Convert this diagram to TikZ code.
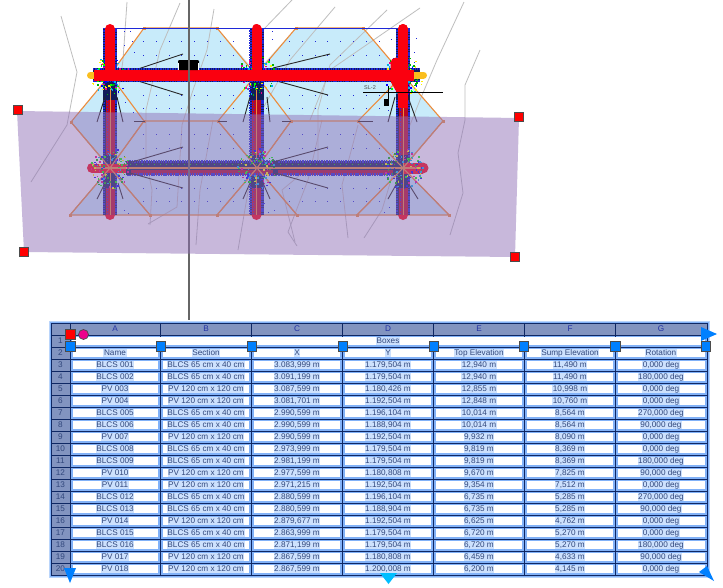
\documentclass[tikz,border=0pt]{standalone}
\usepackage{fontspec}
\setmainfont{Liberation Sans}
\definecolor{skyfill}{RGB}{200,235,250}
\definecolor{purplewash}{RGB}{143,112,183}
\definecolor{orangeln}{RGB}{236,140,60}
\definecolor{contour}{RGB}{190,190,190}
\definecolor{navy}{RGB}{18,28,90}
\definecolor{pipeblue}{RGB}{30,40,215}
\definecolor{pipered}{RGB}{250,0,15}
\definecolor{capyellow}{RGB}{250,190,30}
\definecolor{hdrfill}{RGB}{130,148,192}
\definecolor{gridln}{RGB}{15,40,100}
\definecolor{glowc}{RGB}{205,225,253}
\definecolor{halo}{RGB}{130,178,248}
\definecolor{txtc}{RGB}{50,72,125}
\definecolor{handleblue}{RGB}{0,128,255}
\definecolor{handlecyan}{RGB}{0,190,255}
\newcommand{\tablerow}[8]{%
 \pgfmathsetmacro{\ry}{335+12*#1-6}
 \node[celltxt,datacell] (a#1) at (115,\ry) {#2};
 \node[celltxt,datacell] (b#1) at (206,\ry) {#3};
 \node[celltxt,datacell] (c#1) at (297,\ry) {#4};
 \node[celltxt,datacell] (d#1) at (388,\ry) {#5};
 \node[celltxt,datacell] (e#1) at (479,\ry) {#6};
 \node[celltxt,datacell] (f#1) at (570,\ry) {#7};
 \node[celltxt,datacell] (g#1) at (661,\ry) {#8};
}
\tikzset{
 orangeline/.style={draw=orangeln,line width=1.1pt,line join=round},
 vtx/.style={fill=orangeln,minimum size=3pt,inner sep=0pt},
 contourline/.style={draw=contour,line width=.8pt,line join=round},
 leader/.style={draw=black!85,line width=.9pt},
 redhandle/.style={draw=black!70,fill=red,minimum size=9pt,inner sep=0pt,line width=.7pt},
 bluehandle/.style={draw=black!70,fill=handleblue,minimum size=9.5pt,inner sep=0pt,line width=.7pt},
 celltxt/.style={font=\fontsize{8.2}{9}\selectfont,inner sep=0pt,anchor=center,text height=5.9pt,text depth=1.3pt},
 datacell/.style={fill=glowc,text=txtc,inner xsep=.6pt},
}
\begin{document}
\begin{tikzpicture}[x=1pt,y=-1pt]
\useasboundingbox (0,0) rectangle (723,587);
\fill[white] (0,0) rectangle (723,587);
% survey area
\fill[skyfill] (144,28)--(217,28)--(256,72)--(296,28)--(363,28)--(403,75)--(443,121)--(403,168)--(449,215)--(70,215)--(110,168)--(71,122)--(110,75)--cycle;
% contour lines
\foreach \p in {
 {(61,16)--(77,72)--(67,125)--(31,182)},
 {(127,2)--(123,60)--(118,95)},
 {(180,3)--(160,50)--(146,110)--(146,160)--(152,190)--(150,225)},
 {(214,9)--(207,50)--(193,90)--(182,125)--(177,207)--(148,224)},
 {(292,0)--(263,30)},
 {(335,7)--(290,60)--(262,110)--(250,180)--(238,250)},
 {(387,10)--(330,65)--(318,110)--(318,160)--(282,190)--(295,242)},
 {(420,8)--(330,70)--(310,120)},
 {(464,2)--(437,60)--(420,100)--(400,150)--(382,210)--(364,238)},
 {(480,50)--(465,85)--(465,120)--(458,153)--(463,193)--(450,235)},
 {(322,120)--(308,180)--(288,232)--(297,246)},
 {(358,125)--(342,185)--(348,238)},
 {(213,120)--(200,190)--(196,245)}}
 {\draw[contourline] \p;}
% blue dots
\foreach \xa in {0,1}{
 \pgfmathsetmacro{\ox}{\xa*146}
 \foreach \yy in {41,55,95,108,134,148,188,201}{
  \foreach \k in {0,...,7}{
   \fill[pipeblue] ({143+\ox+\k*12.8},\yy) rectangle +(1,1);
  }}}
\foreach \px/\py in {124/31,130/31,132/41,124/45,134/52,272/31,272/39,396/31,391/39,266/108,268/212,124/210,128/213,125/102,133/112,264/203,384/212,389/207,388/110,274/210,416/38,414/52,414/62}{
 \fill[pipeblue] (\px,\py) rectangle +(1,1);}
% orange frame
\draw[orangeline] (71,122)--(110,75)--(144,28)--(217,28)--(256,75)--(296,28)--(363,28)--(403,75)--(443,121);
\draw[orangeline] (110,75)--(144,121)--(218,121)--(256,75)--(291,121)--(358,121)--(403,75);
\draw[orangeline] (71,122)--(110,168)--(70,215)--(449,215)--(403,168)--(443,121);
\draw[orangeline] (110,168)--(150,215) (144,121)--(110,168) (218,121)--(257,168)--(217,215) (257,168)--(291,121) (257,168)--(297,215) (358,121)--(403,168)--(357,215);
\foreach \vx/\vy [count=\vi] in {71/122,144/121,218/121,291/121,358/121,443/121,70/215,150/215,217/215,297/215,357/215,449/215,144/28,217/28,296/28,363/28}{
 \node[vtx] (vtx\vi) at (\vx,\vy) {};}
% blue frame
\draw[pipeblue,line width=.9pt] (103,28)--(410,28);
% pipes : vertical
\foreach \vx in {110,256.5,403}{
 \fill[pipered] (\vx,215) circle (5);
 \draw[navy,line width=14pt] (\vx,28)--(\vx,215);
 \draw[pipeblue,line width=2.4pt,dash pattern=on 1.4pt off 1pt] (\vx-6,28)--(\vx-6,215);
 \draw[pipeblue,line width=2.4pt,dash pattern=on 1.6pt off .8pt] (\vx+6,28)--(\vx+6,215);
 \draw[pipered,line width=10pt,line cap=round] (\vx,29)--(\vx,75);
 \draw[pipered!72!navy,line width=9pt] (\vx,100)--(\vx,155);
 \draw[pipered!72!navy,line width=9pt] (\vx,188)--(\vx,215);
 \draw[pipeblue,line width=1pt,dash pattern=on 1pt off 1.5pt] (\vx-3,100)--(\vx-3,214);
 \fill[navy] (\vx-7,89) rectangle (\vx+7,99);
 \draw[orangeln,line width=1pt] (\vx,86)--(\vx,215);
 \fill[navy] (\vx-6,180) rectangle (\vx-2,187);
 \fill[navy] (\vx+2,180) rectangle (\vx+6,187);
}
% lower branch
\fill[pipered] (92,168) circle (5);
\fill[pipered] (423,168) circle (5.5);
\draw[pipered,line width=9pt] (92,168)--(127,168);
\draw[pipered,line width=11pt] (404,168)--(423,168);
\draw[navy,line width=14pt] (127,168)--(394,168);
\draw[pipered!65!navy,line width=5pt] (130,172)--(394,172);
\draw[pipeblue,line width=2.2pt,dash pattern=on 1.4pt off 1pt] (127,161.5)--(394,161.5);
\draw[pipeblue,line width=2.2pt,dash pattern=on 1.6pt off .8pt] (127,174.5)--(394,174.5);
\foreach \bx in {128,275,395}{\fill[navy] (\bx-2.5,161) rectangle (\bx+2.5,175);}
\draw[orangeln,line width=1.2pt] (95,168)--(424,168);
\draw[green!80!black,line width=.7pt,dash pattern=on 1pt off 5pt] (100,164.5)--(410,164.5);
\draw[orangeline] (110,168)--(144,121) (110,168)--(150,215) (110,168)--(71,122) (110,168)--(70,215) (257,168)--(218,121) (257,168)--(217,215) (257,168)--(291,121) (257,168)--(297,215) (403,168)--(358,121) (403,168)--(357,215) (403,168)--(443,121) (403,168)--(449,215);
% leaders
\foreach \xa/\ya/\xb/\yb in {183/54/135/70,183/95/135/80,330/54/273/68,328/95/273/80,183/147/132/162,183/188/130/173,328/147/273/162,328/188/275/173,
 105/97/97/122,117/97/123/122,250/97/243/122,267/97/270/122,395/97/388/122,408/97/417/122,
 105/183/97/199,118/183/123/199,250/183/243/199,263/183/270/199,397/183/388/199,408/183/418/199,
 134/121/145/121,218/121/227/121,282/121/291/121,358/121/373/121}{
 \draw[leader] (\xa,\ya)--(\xb,\yb);}
% upper main rim
\draw[navy,line width=14pt] (93,75)--(420,75);
\draw[pipeblue,line width=1.8pt,dash pattern=on 1.4pt off 1pt] (93,68.8)--(420,68.8);
\draw[pipeblue,line width=1.8pt,dash pattern=on 1.6pt off .8pt] (93,81.2)--(420,81.2);
% junction specks
\pgfmathsetseed{41}
\foreach \cx/\cy in {110/75,256.5/75,403/75,110/168,256.5/168,403/168}{
 \foreach \i in {1,...,110}{
  \pgfmathsetmacro{\ang}{rnd*360}
  \pgfmathsetmacro{\rad}{7+rnd*13}
  \pgfmathtruncatemacro{\ci}{int(rnd*6)}
  \ifcase\ci\def\cc{green}\or\def\cc{cyan}\or\def\cc{yellow}\or\def\cc{magenta}\or\def\cc{blue}\else\def\cc{green!70!black}\fi
  \fill[\cc] ({\cx+\rad*cos(\ang)},{\cy+\rad*sin(\ang)}) rectangle +(1.6,1.6);
 }}
% upper main
\draw[capyellow,line width=7pt,line cap=round] (90.5,75)--(98,75) (412,75)--(423.5,75);
\draw[pipered,line width=11pt] (94,75)--(414,75);
\foreach \vx in {110,256.5}{\draw[pipered,line width=10pt] (\vx,40)--(\vx,75);}
% extra riser
\draw[pipered,line width=11pt,line cap=round,line join=round] (396,63)--(396,80)--(403,92);
\draw[pipered,line width=10pt,line cap=round] (403,29)--(403,75);
\draw[pipered,line width=10pt] (403,80)--(403,108);
% box and label
\fill[black,rounded corners=1pt] (178,60) rectangle (199,70);
\draw[white,line width=.7pt] (178.5,70)--(178.5,63) (198.5,70)--(198.5,63);
\node[font=\fontsize{5.5}{6}\selectfont,text=black!70,inner sep=0pt] (sl) at (370,88) {SL-2};
\draw[black,line width=.8pt] (363,92)--(443,92);
\draw[black,line width=1pt] (388,86)--(388,100);
\fill[black] (384,99) rectangle (389,106);
\draw[black!60,line width=1.1pt] (189,0)--(189,320);
% purple sheet
\fill[purplewash,opacity=.49] (17,111)--(519,118)--(515,257)--(24,252)--cycle;
\node[redhandle] (h1) at (17.5,109.5) {};
\node[redhandle] (h2) at (519,117) {};
\node[redhandle] (h3) at (24,251.5) {};
\node[redhandle] (h4) at (514.5,256.5) {};
% table
\fill[halo!55!white] (48.5,320.5) rectangle (710,578);
\fill[halo] (49.5,321.5) rectangle (709,576.5);
\fill[hdrfill] (51,323) rectangle (707,335);
\fill[hdrfill] (51,335) rectangle (70,575);
\foreach \r in {2,...,20}{
 \foreach \cl/\cr in {70/160.5,160.5/251.5,251.5/342.5,342.5/433,433/524.5,524.5/615.5,615.5/707}{
  \fill[white] (\cl+2.5,{335+12*(\r-1)+2.2}) rectangle (\cr-2.5,{335+12*\r-2.2});
 }}
\foreach \r in {0,...,20}{\draw[gridln,line width=.9pt] (51,335+12*\r)--(707,335+12*\r);}
\draw[gridln,line width=.9pt] (51,323)--(707,323);
\foreach \gx in {51,70,160.5,251.5,342.5,433,524.5,615.5,707}{\draw[gridln,line width=.9pt] (\gx,323)--(\gx,575);}
\fill[white] (72,337) rectangle (705,345.2);
\foreach \gx/\gl in {115/A,206/B,297/C,388/D,479/E,570/F,661/G}{
 \node[celltxt,text=txtc!70!blue] (col\gl) at (\gx,329.5) {\gl};}
\foreach \r in {1,...,20}{
 \node[celltxt,text=txtc] (row\r) at (60.5,{335+12*\r-6}) {\r};}
\node[celltxt,datacell] (boxes) at (388,341) {Boxes};
\tablerow{2}{Name}{Section}{X}{Y}{Top Elevation}{Sump Elevation}{Rotation}
\tablerow{3}{BLCS 001}{BLCS 65 cm x 40 cm}{3.083,999 m}{1.179,504 m}{12,940 m}{11,490 m}{0,000 deg}
\tablerow{4}{BLCS 002}{BLCS 65 cm x 40 cm}{3.091,199 m}{1.179,504 m}{12,940 m}{11,490 m}{180,000 deg}
\tablerow{5}{PV 003}{PV 120 cm x 120 cm}{3.087,599 m}{1.180,426 m}{12,855 m}{10,998 m}{0,000 deg}
\tablerow{6}{PV 004}{PV 120 cm x 120 cm}{3.081,701 m}{1.192,504 m}{12,848 m}{10,760 m}{0,000 deg}
\tablerow{7}{BLCS 005}{BLCS 65 cm x 40 cm}{2.990,599 m}{1.196,104 m}{10,014 m}{8,564 m}{270,000 deg}
\tablerow{8}{BLCS 006}{BLCS 65 cm x 40 cm}{2.990,599 m}{1.188,904 m}{10,014 m}{8,564 m}{90,000 deg}
\tablerow{9}{PV 007}{PV 120 cm x 120 cm}{2.990,599 m}{1.192,504 m}{9,932 m}{8,090 m}{0,000 deg}
\tablerow{10}{BLCS 008}{BLCS 65 cm x 40 cm}{2.973,999 m}{1.179,504 m}{9,819 m}{8,369 m}{0,000 deg}
\tablerow{11}{BLCS 009}{BLCS 65 cm x 40 cm}{2.981,199 m}{1.179,504 m}{9,819 m}{8,369 m}{180,000 deg}
\tablerow{12}{PV 010}{PV 120 cm x 120 cm}{2.977,599 m}{1.180,808 m}{9,670 m}{7,825 m}{90,000 deg}
\tablerow{13}{PV 011}{PV 120 cm x 120 cm}{2.971,215 m}{1.192,504 m}{9,354 m}{7,512 m}{0,000 deg}
\tablerow{14}{BLCS 012}{BLCS 65 cm x 40 cm}{2.880,599 m}{1.196,104 m}{6,735 m}{5,285 m}{270,000 deg}
\tablerow{15}{BLCS 013}{BLCS 65 cm x 40 cm}{2.880,599 m}{1.188,904 m}{6,735 m}{5,285 m}{90,000 deg}
\tablerow{16}{PV 014}{PV 120 cm x 120 cm}{2.879,677 m}{1.192,504 m}{6,625 m}{4,762 m}{0,000 deg}
\tablerow{17}{BLCS 015}{BLCS 65 cm x 40 cm}{2.863,999 m}{1.179,504 m}{6,720 m}{5,270 m}{0,000 deg}
\tablerow{18}{BLCS 016}{BLCS 65 cm x 40 cm}{2.871,199 m}{1.179,504 m}{6,720 m}{5,270 m}{180,000 deg}
\tablerow{19}{PV 017}{PV 120 cm x 120 cm}{2.867,599 m}{1.180,808 m}{6,459 m}{4,633 m}{90,000 deg}
\tablerow{20}{PV 018}{PV 120 cm x 120 cm}{2.867,599 m}{1.200,008 m}{6,200 m}{4,145 m}{0,000 deg}
% table handles
\node[redhandle,minimum size=10pt] (tred) at (70.5,334.5) {};
\node[draw=black!70,fill=magenta,circle,minimum size=10pt,inner sep=0pt,line width=.7pt] (tpink) at (83.5,334.5) {};
\foreach \hx [count=\hi] in {70.5,161,252,343,434,524,615.5,706}{
 \node[bluehandle] (hb\hi) at (\hx,346.5) {};}
\fill[handleblue] (701,327)--(717,334)--(701,341)--cycle;
\fill[handleblue] (64,568)--(76,568)--(70,583)--cycle;
\fill[handlecyan] (380,573)--(397,573)--(388.5,584)--cycle;
\fill[handleblue] (699,572)--(707,566)--(714,581)--cycle;
\end{tikzpicture}
\end{document}
